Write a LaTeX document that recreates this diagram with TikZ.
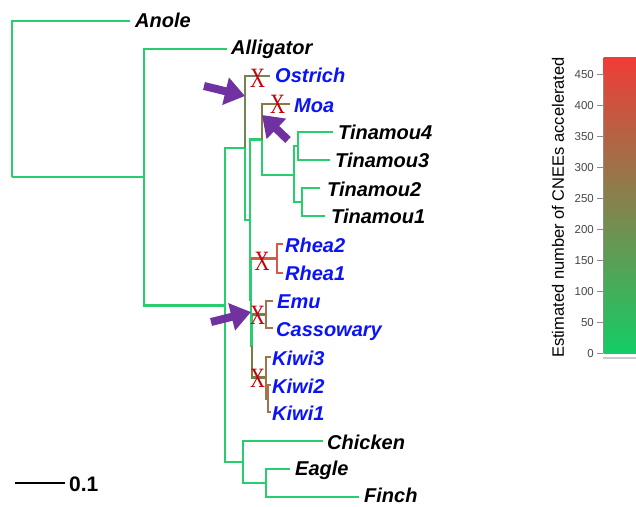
\documentclass[tikz,border=0pt]{standalone}
\usepackage{graphicx}
\usepackage{fontspec}
\setmainfont{Liberation Sans}
\newfontfamily\serifX{Liberation Serif}
\usetikzlibrary{arrows.meta}

\definecolor{grn}{RGB}{40,205,110}
\definecolor{olv}{RGB}{110,135,80}
\definecolor{moac}{RGB}{140,120,70}
\definecolor{rheac}{RGB}{215,90,70}
\definecolor{brn}{RGB}{165,115,75}
\definecolor{kolv}{RGB}{120,125,70}
\definecolor{lblue}{RGB}{10,20,245}
\definecolor{xred}{RGB}{200,0,10}
\definecolor{arrowp}{RGB}{112,50,160}
\definecolor{cbtop}{RGB}{240,60,55}
\definecolor{cbmid}{RGB}{130,108,70}
\definecolor{cbbot}{RGB}{20,205,100}
\definecolor{tickc}{RGB}{70,70,70}

\tikzset{
  br/.style={line width=2.8pt},
  lab/.style={anchor=west, inner sep=0pt, font=\fontsize{20}{24}\selectfont\bfseries\itshape, text height=14.4pt, text depth=0pt},
  blab/.style={lab, text=lblue},
  xmark/.style={inner sep=0pt, text=xred, font=\fontsize{28}{28}\selectfont\serifX, text height=18.5pt, text depth=0pt},
  parr/.style={draw=arrowp, line width=8pt, -{Triangle[length=20pt,width=27pt,fill=arrowp]}},
  ticklab/.style={anchor=east, inner sep=0pt, text=tickc, font=\fontsize{11.5}{12}\selectfont, text height=8.3pt, text depth=0pt},
}

\begin{document}
\begin{tikzpicture}[x=1pt,y=-1pt]
\useasboundingbox (0,0) rectangle (636,506);

% internal nodes
\coordinate (root) at (12,177);
\coordinate (N1) at (144,177);
\coordinate (aves) at (225,305.5);
\coordinate (pal) at (245,148);
\coordinate (nA) at (250,220);
\coordinate (nMT) at (262,139.5);
\coordinate (nT) at (294,175);
\coordinate (nT43) at (298,146);
\coordinate (nT21) at (302,202);
\coordinate (nB) at (251,300);
\coordinate (nR) at (277,258.5);
\coordinate (nC) at (252,346);
\coordinate (nEC) at (266,314.5);
\coordinate (nK) at (266,377.5);
\coordinate (nK21) at (268,398.5);
\coordinate (neo) at (243,462);
\coordinate (nEF) at (266,483);

% tips
\coordinate (tAnole) at (130,21);
\coordinate (tAlligator) at (227,49);
\coordinate (tOstrich) at (270,76);
\coordinate (tMoa) at (290,104);
\coordinate (tT4) at (333,132);
\coordinate (tT3) at (330,160);
\coordinate (tT2) at (320,188);
\coordinate (tT1) at (325,216);
\coordinate (tRhea2) at (283,244);
\coordinate (tRhea1) at (283,273);
\coordinate (tEmu) at (273,301);
\coordinate (tCass) at (273,328);
\coordinate (tKiwi3) at (271,357);
\coordinate (tKiwi2) at (271,385);
\coordinate (tKiwi1) at (271,412);
\coordinate (tChicken) at (323,441);
\coordinate (tEagle) at (290,469);
\coordinate (tFinch) at (359,497);

% green branches
\begin{scope}[br, draw=grn]
\draw (root) |- (tAnole);
\draw (root) |- (N1);
\draw (N1) |- (tAlligator);
\draw (N1) |- (aves);
\draw (aves) |- (pal);
\draw (aves) |- (neo);
\draw (pal) |- (nA);
\draw (nA) |- (nMT);
\draw (nA) |- (nB);
\draw (nMT) |- (nT);
\draw (nT) |- (nT43);
\draw (nT) |- (nT21);
\draw (nT43) |- (tT4);
\draw (nT43) |- (tT3);
\draw (nT21) |- (tT2);
\draw (nT21) |- (tT1);
\draw (nB) -- (nB |- nR);
\draw (nB) |- (nC);
\draw (nC) -- (nC |- nEC);
\draw (neo) |- (tChicken);
\draw (neo) |- (nEF);
\draw (nEF) |- (tEagle);
\draw (nEF) |- (tFinch);
\end{scope}

% coloured branches
\draw[br, olv] (pal) |- (tOstrich);
\draw[br, moac] (nMT) |- (tMoa);
\draw[br, rheac] (nB |- nR) -- (nR);
\draw[br, rheac] (nR) |- (tRhea2);
\draw[br, rheac] (nR) |- (tRhea1);
\draw[br, kolv] (nC |- nEC) -- (nEC);
\draw[br, brn] (nEC) |- (tEmu);
\draw[br, brn] (nEC) |- (tCass);
\draw[br, kolv] (nC) |- (nK);
\draw[br, brn] (nK) |- (tKiwi3);
\draw[br, brn] (nK) |- (nK21);
\draw[br, brn] (nK21) |- (tKiwi2);
\draw[br, brn] (nK21) |- (tKiwi1);

% labels
\node[lab] (lAnole) at (135,20.5) {Anole};
\node[lab] (lAlligator) at (231,47.5) {Alligator};
\node[blab] (lOstrich) at (275,75.5) {Ostrich};
\node[blab] (lMoa) at (294,105) {Moa};
\node[lab] (lT4) at (338,132.5) {Tinamou4};
\node[lab] (lT3) at (335,160.5) {Tinamou3};
\node[lab] (lT2) at (327,189) {Tinamou2};
\node[lab] (lT1) at (331,216.5) {Tinamou1};
\node[blab] (lRhea2) at (285,245) {Rhea2};
\node[blab] (lRhea1) at (285,273.5) {Rhea1};
\node[blab] (lEmu) at (277,301.5) {Emu};
\node[blab] (lCass) at (276,329) {Cassowary};
\node[blab] (lKiwi3) at (272,358) {Kiwi3};
\node[blab] (lKiwi2) at (272,386) {Kiwi2};
\node[blab] (lKiwi1) at (272,413.5) {Kiwi1};
\node[lab] (lChicken) at (327,442) {Chicken};
\node[lab] (lEagle) at (295,468.5) {Eagle};
\node[lab] (lFinch) at (364,495) {Finch};

% loss marks
\node[xmark] (xOstrich) at (257.5,78) {\scalebox{0.74}[1]{X}};
\node[xmark] (xMoa) at (277.5,104.5) {\scalebox{0.74}[1]{X}};
\node[xmark] (xRhea) at (262,261) {\scalebox{0.74}[1]{X}};
\node[xmark] (xEmu) at (257.5,315) {\scalebox{0.74}[1]{X}};
\node[xmark] (xKiwi) at (257.5,378.5) {\scalebox{0.74}[1]{X}};

% purple arrows
\coordinate (a1s) at (204,86);
\coordinate (a1e) at (245,96);
\coordinate (a2s) at (288,140);
\coordinate (a2e) at (262,115);
\coordinate (a3s) at (211,322);
\coordinate (a3e) at (251,312);
\draw[parr] (a1s) -- (a1e);
\draw[parr] (a2s) -- (a2e);
\draw[parr] (a3s) -- (a3e);

% scale bar
\coordinate (sb1) at (15,483);
\coordinate (sb2) at (65,483);
\draw[line width=2.5pt] (sb1) -- (sb2);
\node[anchor=west, inner sep=0pt, font=\fontsize{21}{24}\selectfont\bfseries, text height=15.1pt, text depth=0pt] (sblab) at (69,484) {0.1};

% colour bar
\shade[top color=cbtop, middle color=cbmid, bottom color=cbbot] (603.5,57) rectangle (636,353);
\draw[line width=2.5pt, draw=black!20] (603,358) -- (636,358);
\draw[line width=1pt, draw=black!45] (603,74) -- (603,353);
\foreach \v [count=\i from 0] in {0,50,...,450} {
  \draw[line width=1pt, draw=black!45] (597,353-31*\i) -- (603,353-31*\i);
  \node[ticklab] at (594,353-31*\i) {\v};
}
\node[rotate=90, inner sep=0pt, font=\fontsize{16.5}{18}\selectfont, text height=11.9pt, text depth=0pt] (cblab) at (558,207.5) {Estimated number of CNEEs accelerated};
\end{tikzpicture}
\end{document}
